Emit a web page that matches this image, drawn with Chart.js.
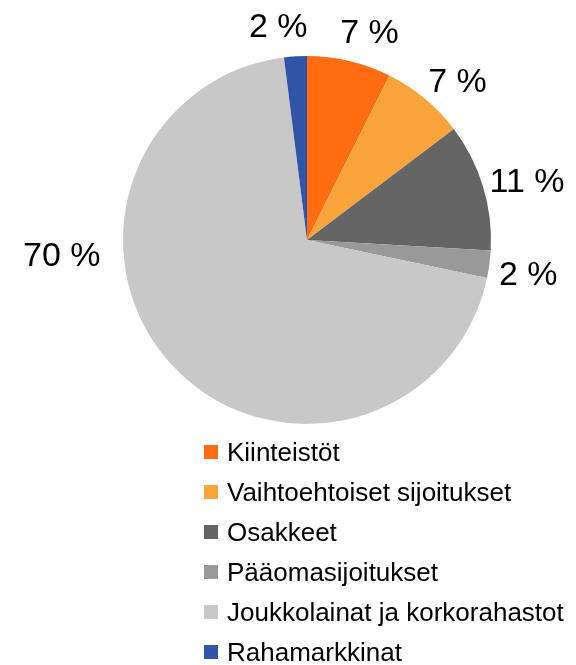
<html>
  <head>
    <meta charset="utf-8">
    <title>Sijoitusjakauma</title>
    <script src="https://cdn.jsdelivr.net/npm/chart.js"></script>
    <style type="text/css">
      html, body { margin: 0; padding: 0; background: #ffffff; }
      canvas { display: block; }
    </style>
  </head>
  <body>
    <canvas id="pieChart" width="576" height="665"></canvas>
    <script>
      // Data (shares in percent)
      var categories = ['Kiinteistöt', 'Vaihtoehtoiset sijoitukset', 'Osakkeet', 'Pääomasijoitukset', 'Joukkolainat ja korkorahastot', 'Rahamarkkinat'];
      var shares = [7.4, 7.3, 11.2, 2.4, 69.7, 2.0];
      var sliceColors = ['#ff6c12', '#fca43c', '#656565', '#999999', '#c8c8c8', '#3254a6'];

      var fontName = '"Liberation Sans", Arial, sans-serif';

      // Percent labels outside the slices (Excel "best fit" style)
      var outsideLabels = {
        id: 'outsideLabels',
        afterDatasetsDraw: function(chart, args, opts) {
          var ctx = chart.ctx;
          var meta = chart.getDatasetMeta(0);
          var values = chart.data.datasets[0].data;
          var total = values.reduce(function(a, b) { return a + b; }, 0);
          ctx.save();
          ctx.font = opts.size + 'px ' + fontName;
          ctx.fillStyle = '#000000';
          ctx.textAlign = 'center';
          ctx.textBaseline = 'alphabetic';
          meta.data.forEach(function(arc, i) {
            var p = arc.getProps(['x', 'y', 'startAngle', 'endAngle', 'outerRadius'], true);
            var mid = (p.startAngle + p.endAngle) / 2 + opts.nudge[i] * Math.PI / 180;
            var d = p.outerRadius + opts.gap[i];
            var cx = p.x + Math.cos(mid) * d;
            var cy = p.y + Math.sin(mid) * d;
            var txt = Math.round(values[i] / total * 100) + ' %';
            ctx.fillText(txt, cx, cy + opts.size * 0.358);
          });
          ctx.restore();
        }
      };

      // One entry per row under the pie
      var stackedLegend = {
        id: 'stackedLegend',
        afterDraw: function(chart, args, opts) {
          var ctx = chart.ctx;
          var ds = chart.data.datasets[0];
          ctx.save();
          ctx.font = opts.size + 'px ' + fontName;
          ctx.textAlign = 'left';
          ctx.textBaseline = 'alphabetic';
          chart.data.labels.forEach(function(lab, i) {
            var cy = opts.top + i * opts.rowGap;
            ctx.fillStyle = ds.backgroundColor[i];
            ctx.fillRect(opts.left, cy - opts.box / 2, opts.box, opts.box);
            ctx.fillStyle = '#000000';
            ctx.fillText(lab, opts.left + opts.box + 9, cy + opts.size * 0.36);
          });
          ctx.restore();
        }
      };

      var chart = new Chart(document.getElementById('pieChart'), {
        type: 'pie',
        data: {
          labels: categories,
          datasets: [{
            data: shares,
            backgroundColor: sliceColors,
            borderWidth: 0
          }]
        },
        options: {
          responsive: false,
          animation: false,
          layout: {
            padding: { left: 123, right: 85, top: 56, bottom: 241 }
          },
          plugins: {
            legend: { display: false },
            tooltip: { enabled: false },
            outsideLabels: {
              size: 34,
              nudge: [3.3, 3.4, 1.7, 1, 39.4, -4],
              gap: [34.6, 36, 44, 39.7, 61.6, 33]
            },
            stackedLegend: {
              size: 26,
              left: 204,
              top: 452,
              rowGap: 40,
              box: 14
            }
          }
        },
        plugins: [outsideLabels, stackedLegend]
      });
    </script>
  </body>
</html>
